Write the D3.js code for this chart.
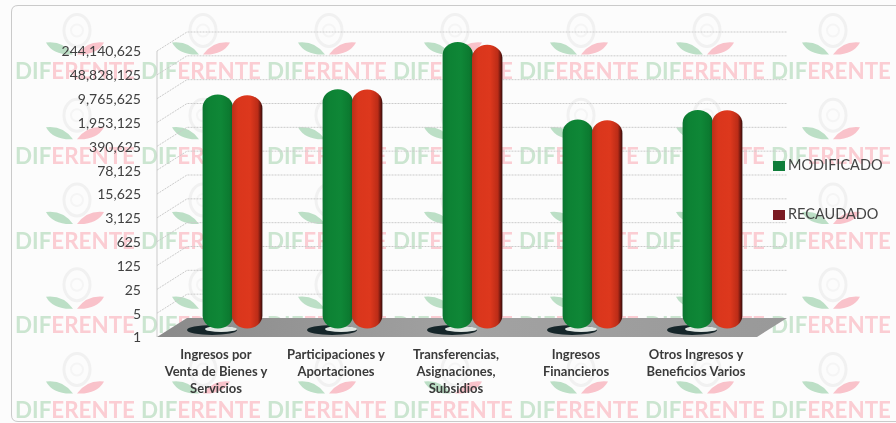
<!DOCTYPE html>
<html>
<head>
<meta charset="utf-8">
<script src="https://d3js.org/d3.v7.min.js"></script>
<style>
html, body { margin: 0; padding: 0; background: #ffffff; }
svg { display: block; filter: blur(0.5px); }
</style>
</head>
<body>
<div id="chartDiv"></div>
<script>
var categories = [
    ["Ingresos por", "Venta de Bienes y", "Servicios"],
    ["Participaciones y", "Aportaciones"],
    ["Transferencias,", "Asignaciones,", "Subsidios"],
    ["Ingresos", "Financieros"],
    ["Otros Ingresos y", "Beneficios Varios"]
];
var seriesNames = ["MODIFICADO", "RECAUDADO"];
var modificado = [6800000, 9700000, 238000000, 1250000, 2400000];
var recaudado = [6500000, 9500000, 195000000, 1200000, 2350000];
var tickValues = [1, 5, 25, 125, 625, 3125, 15625, 78125, 390625, 1953125, 9765625, 48828125, 244140625];

var width = 896, height = 423;
var margin = { top: 51, left: 157, bottom: 86, right: 139 };
var depthX = 30, depthY = 19;

var svg = d3.select("#chartDiv").append("svg")
    .attr("width", width)
    .attr("height", height);

var defs = svg.append("defs");

// cylinder shading, left to right
function cylinderGradient(id, stops) {
    var g = defs.append("linearGradient").attr("id", id);
    stops.forEach(function (s) {
        g.append("stop").attr("offset", s[0]).attr("stop-color", s[1]);
    });
}
cylinderGradient("greenBar", [[0, "#0c7430"], [0.2, "#0d8234"], [0.6, "#0f8737"], [0.88, "#0c7a30"], [1, "#0a5f28"]]);
cylinderGradient("redBar", [[0, "#b93019"], [0.2, "#da361c"], [0.6, "#dd381d"], [0.85, "#bb2c17"], [0.96, "#5a130e"], [1, "#35100c"]]);
cylinderGradient("floorFill", [[0, "#8a8a8a"], [0.5, "#a2a2a2"], [1, "#999999"]]);

svg.append("rect")
    .attr("width", width).attr("height", height)
    .attr("fill", "#fcfcfc");

// card outline, open on the right side
svg.append("path")
    .attr("d", "M896,5.5H18Q11.5,5.5 11.5,12V415Q11.5,421.5 18,421.5H896")
    .attr("fill", "none")
    .attr("stroke", "#cacaca");

// watermark tiles
var tileCols = d3.range(7), tileRows = d3.range(5);
var wm = svg.append("g");
tileRows.forEach(function (r) {
    tileCols.forEach(function (c) {
        var tx = 15 + c * 126, ty = 71.5 + r * 84.75;
        var lx = tx + 60, ly = ty - 24;
        var t = wm.append("g");
        t.append("ellipse").attr("cx", lx + 2).attr("cy", ly - 17).attr("rx", 13).attr("ry", 16)
            .attr("fill", "none").attr("stroke", "#f1f1f1").attr("stroke-width", 3);
        t.append("circle").attr("cx", lx + 2).attr("cy", ly - 17).attr("r", 6)
            .attr("fill", "none").attr("stroke", "#f5f5f5").attr("stroke-width", 2);
        t.append("path")
            .attr("d", "M" + (lx - 29) + "," + (ly - 5) + "Q" + (lx - 12) + "," + (ly - 7) + " " + (lx - 2) + "," + (ly + 7) + "Q" + (lx - 22) + "," + (ly + 8) + " " + (lx - 29) + "," + (ly - 5) + "Z")
            .attr("fill", "#bcdfc6");
        t.append("path")
            .attr("d", "M" + (lx + 29) + "," + (ly - 5) + "Q" + (lx + 12) + "," + (ly - 7) + " " + (lx + 2) + "," + (ly + 7) + "Q" + (lx + 22) + "," + (ly + 8) + " " + (lx + 29) + "," + (ly - 5) + "Z")
            .attr("fill", "#f9c2ca");
        var label = t.append("text")
            .attr("x", tx).attr("y", ty + 7.5)
            .attr("font-family", "Lato, sans-serif")
            .attr("font-weight", 700)
            .attr("font-size", 23)
            .attr("textLength", 120)
            .attr("lengthAdjust", "spacingAndGlyphs");
        label.append("tspan").attr("fill", "#cbe5d0").text("DIF");
        label.append("tspan").attr("fill", "#fbcdd3").text("ERENTE");
    });
});

// scales
var x0 = d3.scaleBand()
    .domain(d3.range(categories.length))
    .range([margin.left, width - margin.right]);
var x1 = d3.scaleBand()
    .domain(seriesNames)
    .range([x0.bandwidth() * 0.255, x0.bandwidth() * 0.745]);
var y = d3.scaleLog()
    .base(5)
    .domain([1, 244140625])
    .range([height - margin.bottom, margin.top]);

var floorY = y(1);
var left = x0.range()[0], right = x0.range()[1];

// walls and gridlines
var grid = svg.append("g")
    .attr("fill", "none")
    .attr("stroke", "#cbcbcb");
grid.selectAll(".grid")
    .data(tickValues.slice(1))
    .enter().append("path")
    .attr("stroke-dasharray", "2,1")
    .attr("d", function (d) {
        return "M" + left + "," + y(d) + "L" + (left + depthX) + "," + (y(d) - depthY) + "H" + (right + depthX);
    });
grid.append("path")
    .attr("d", "M" + left + "," + floorY + "V" + y(244140625));

// floor
svg.append("path")
    .attr("d", "M" + left + "," + floorY + "L" + (left + depthX) + "," + (floorY - depthY) + "H" + (right + depthX) + "L" + right + "," + floorY + "Z")
    .attr("fill", "url(#floorFill)");

// bars
var series = [modificado, recaudado];
var barW = x1.bandwidth() + 1;
var barMid = depthX / 2, barLift = depthY / 2;

var groups = svg.selectAll(".group")
    .data(categories)
    .enter().append("g")
    .attr("class", "group")
    .attr("transform", function (d, i) { return "translate(" + (x0(i) + barMid) + ",0)"; });

// contact shadow, a dark crescent with a pale middle
groups.append("ellipse")
    .attr("cx", x0.bandwidth() / 2 - 20)
    .attr("cy", floorY - barLift + 2.5)
    .attr("rx", 25)
    .attr("ry", 5)
    .attr("fill", "#16262a");
groups.append("ellipse")
    .attr("cx", x0.bandwidth() / 2 - 11)
    .attr("cy", floorY - barLift + 1.5)
    .attr("rx", 16)
    .attr("ry", 3)
    .attr("fill", "#dfe6e2");

groups.each(function (d, i) {
    var g = d3.select(this);
    seriesNames.forEach(function (name, s) {
        var top = y(series[s][i]) - barLift;
        g.append("rect")
            .attr("x", x1(name))
            .attr("y", top)
            .attr("width", barW)
            .attr("height", floorY - barLift + 1 - top)
            .attr("rx", barW / 2)
            .attr("ry", 13)
            .attr("fill", s == 0 ? "url(#greenBar)" : "url(#redBar)");
    });
});

// y axis
var yAxis = d3.axisLeft(y)
    .tickValues(tickValues)
    .tickSize(0)
    .tickPadding(16)
    .tickFormat(d3.format(","));
var yG = svg.append("g")
    .attr("transform", "translate(" + left + ",0.5)")
    .call(yAxis);
yG.select(".domain").remove();
yG.selectAll("text")
    .attr("font-family", "Lato, sans-serif")
    .attr("font-size", 14)
    .attr("fill", "#404040");

// x axis, labels wrapped by hand
var xAxis = d3.axisBottom(x0).tickSize(0).tickFormat("");
var xG = svg.append("g")
    .attr("transform", "translate(0," + floorY + ")")
    .call(xAxis);
xG.select(".domain").remove();
xG.selectAll(".tick text").each(function (d) {
    var t = d3.select(this)
        .attr("dy", null)
        .attr("font-family", "Lato, sans-serif")
        .attr("font-weight", 700)
        .attr("font-size", 13)
        .attr("fill", "#3a3a3a");
    categories[d].forEach(function (line, n) {
        t.append("tspan")
            .attr("x", -1)
            .attr("y", 22 + n * 17)
            .text(line);
    });
});

// legend
var legend = svg.selectAll(".legend")
    .data(seriesNames)
    .enter().append("g")
    .attr("class", "legend")
    .attr("transform", function (d, i) { return "translate(773," + (165 + i * 49) + ")"; });
legend.append("rect")
    .attr("x", 0).attr("y", -4)
    .attr("width", 12).attr("height", 10)
    .attr("fill", function (d, i) { return i == 0 ? "#0f7d3a" : "#7a1a22"; });
legend.append("text")
    .attr("x", 15)
    .attr("y", 0)
    .attr("dy", "0.35em")
    .attr("font-family", "Lato, sans-serif")
    .attr("font-size", 14.5)
    .attr("fill", "#444444")
    .text(function (d) { return d; });
</script>
</body>
</html>
